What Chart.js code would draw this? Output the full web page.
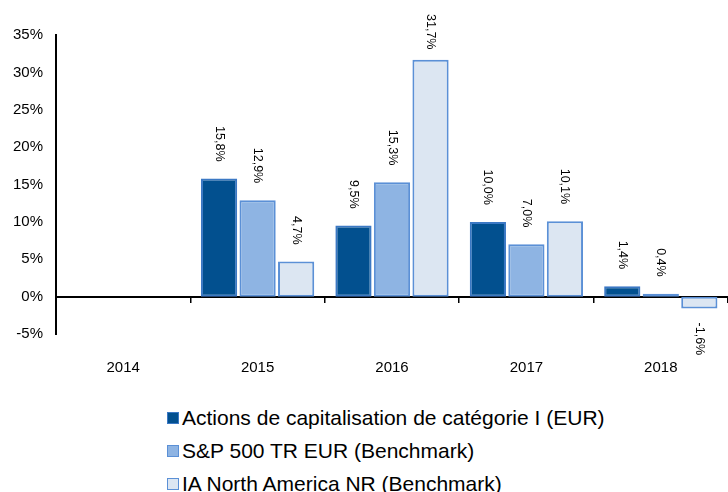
<!DOCTYPE html>
<html>
<head>
<meta charset="utf-8">
<script src="https://cdn.jsdelivr.net/npm/chart.js@4"></script>
<style>
  body { margin: 0; background: #fff; }
  #wrap { position: relative; width: 728px; height: 492px; overflow: hidden; }
  #legend { position: absolute; left: 167px; top: 401px; font: 21px "Liberation Sans", Arial, sans-serif; color: #000; }
  .item { height: 33px; display: flex; align-items: center; white-space: nowrap; }
  .item .box { width: 10px; height: 10px; border: 1.5px solid #5b90d6; margin-right: 3px; flex: none; }
</style>
</head>
<body>
<div id="wrap">
  <canvas id="chart" width="728" height="390"></canvas>
  <div id="legend"></div>
</div>
<script>
// --- data ---
const years = ['2014', '2015', '2016', '2017', '2018'];
const seriesNames = [
    'Actions de capitalisation de catégorie I (EUR)',
    'S&P 500 TR EUR (Benchmark)',
    'IA North America NR (Benchmark)'
];
const fundValues = [null, 15.8, 9.5, 10.0, 1.4];
const spValues = [null, 12.9, 15.3, 7.0, 0.4];
const iaValues = [null, 4.7, 31.7, 10.1, -1.6];
const yTicks = [-5, 0, 5, 10, 15, 20, 25, 30, 35];

const fills = ['#02508f', '#8eb4e3', '#dce6f2'];
const borders = ['#3b78c4', '#5b90d6', '#5b90d6'];
const FONT = '"Liberation Sans", Arial, sans-serif';

// value labels, rotated, above bars (below for negatives)
const barLabels = {
    id: 'barLabels',
    afterDatasetsDraw(chart) {
        const ctx = chart.ctx;
        ctx.save();
        ctx.font = '12.5px ' + FONT;
        ctx.fillStyle = '#000';
        ctx.textBaseline = 'middle';
        ctx.textAlign = 'left';
        chart.data.datasets.forEach((ds, i) => {
            chart.getDatasetMeta(i).data.forEach((bar, j) => {
                const v = ds.data[j];
                if (v === null || v === undefined) return;
                const txt = v.toFixed(1).replace('.', ',') + '%';
                const w = ctx.measureText(txt).width;
                const y0 = v >= 0 ? Math.max(bar.y - 17 - w, 14) : bar.y + 14;
                ctx.save();
                ctx.translate(bar.x, y0);
                ctx.rotate(Math.PI / 2);
                ctx.fillText(txt, 0, 0);
                ctx.restore();
            });
        });
        ctx.restore();
    }
};

const chart = new Chart(document.getElementById('chart'), {
    type: 'bar',
    data: {
        labels: years,
        datasets: [fundValues, spValues, iaValues].map((d, i) => ({
            label: seriesNames[i],
            data: d,
            backgroundColor: fills[i],
            borderColor: borders[i],
            borderWidth: 2,
            borderSkipped: false,
            categoryPercentage: 0.86,
            barPercentage: 0.94
        }))
    },
    options: {
        responsive: false,
        animation: false,
        devicePixelRatio: 1,
        layout: { padding: { top: 35, right: 0, bottom: 13, left: 0 } },
        plugins: { legend: { display: false }, tooltip: { enabled: false } },
        scales: {
            y: {
                min: -5, max: 35,
                afterBuildTicks: s => { s.ticks = yTicks.map(v => ({ value: v })); },
                afterFit: s => { s.width = 56; },
                ticks: { callback: v => v + '%', color: '#000', font: { size: 15, family: FONT }, padding: 13 },
                grid: { display: false, drawTicks: false },
                border: { display: true, color: '#000', width: 2 }
            },
            x: {
                position: { y: 0 },
                offset: true,
                afterFit: s => { s.height = 0; },
                ticks: { display: false },
                grid: { display: true, drawOnChartArea: false, drawTicks: true, tickLength: 5, color: '#000', lineWidth: 1.5, offset: true },
                border: { display: true, color: '#000', width: 2 }
            },
            x2: {
                type: 'category',
                position: 'bottom',
                offset: true,
                afterFit: s => { s.height = 43; },
                ticks: { color: '#000', font: { size: 15, family: FONT }, padding: 17, maxRotation: 0 },
                grid: { display: false },
                border: { display: false }
            }
        }
    },
    plugins: [barLabels]
});

// legend, one item per line
const legend = document.getElementById('legend');
chart.data.datasets.forEach((ds, i) => {
    const item = document.createElement('div');
    item.className = 'item';
    item.innerHTML = `<span class="box" style="background:${fills[i]};border-color:${borders[i]}"></span><span>${ds.label.replace('&', '&amp;')}</span>`;
    legend.appendChild(item);
});
</script>
</body>
</html>
